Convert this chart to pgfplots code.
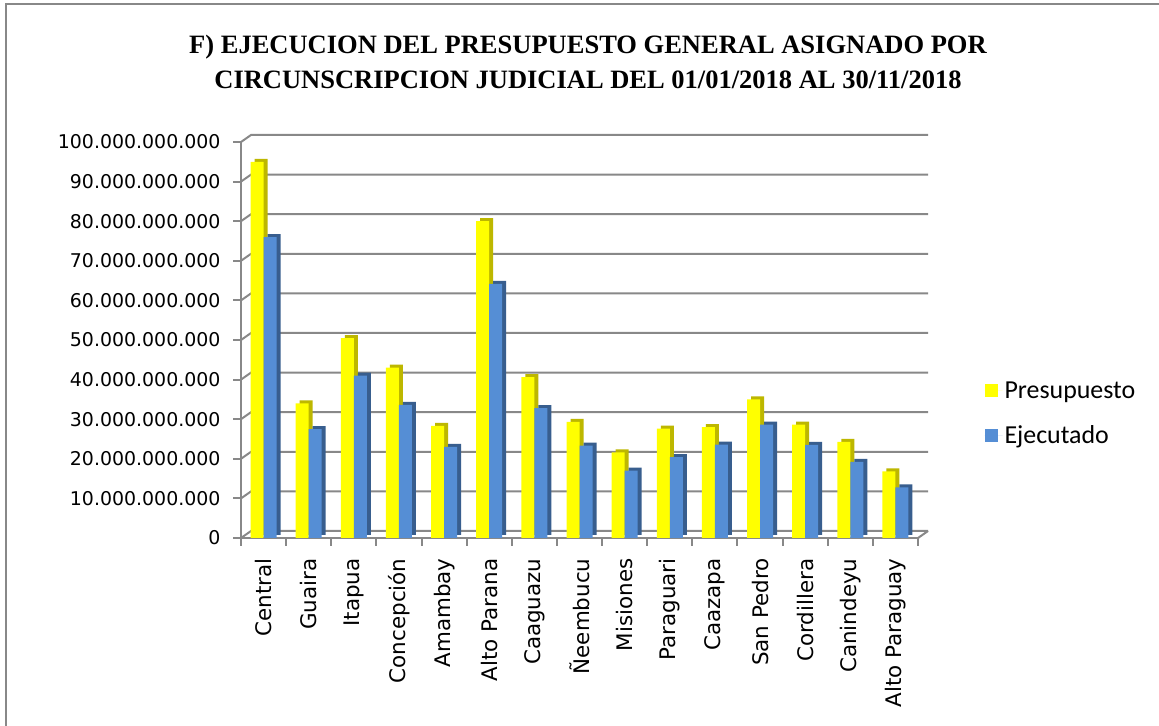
\documentclass[border=0pt]{standalone}
\usepackage{fontspec}
\setmainfont{Carlito}
\newfontfamily\dejavu{DejaVu Sans}
\newfontfamily\titlefont{Liberation Serif}
\usepackage{pgfplots}
\pgfplotsset{compat=1.18}
\definecolor{yel}{HTML}{FFFF00}
\definecolor{yelside}{HTML}{BDB700}
\definecolor{blu}{HTML}{558ED5}
\definecolor{bluside}{HTML}{385E8E}
\definecolor{gridc}{HTML}{888888}
\begin{document}
\begin{tikzpicture}
\path[use as bounding box, fill=white] (0,0) rectangle (1159bp,726bp);
\draw[gridc, line width=2bp] (6bp,0) -- (6bp,722bp) -- (1159bp,722bp);
\node[align=center, font=\titlefont\fontsize{26.6}{35}\selectfont\bfseries] at (588bp,664bp)
  {F) EJECUCION DEL PRESUPUESTO GENERAL ASIGNADO POR\\CIRCUNSCRIPCION JUDICIAL DEL 01/01/2018 AL 30/11/2018};
\begin{axis}[
  at={(241bp,188bp)}, anchor=south west,
  scale only axis, width=677bp, height=396bp,
  xmin=-0.5, xmax=14.5, ymin=0, ymax=100,
  axis x line*=bottom, axis y line*=left,
  axis line style={gridc, line width=2bp},
  ytick={0,10,...,100},
  yticklabels={\mbox{0},\mbox{10.000.000.000},\mbox{20.000.000.000},\mbox{30.000.000.000},\mbox{40.000.000.000},\mbox{50.000.000.000},\mbox{60.000.000.000},\mbox{70.000.000.000},\mbox{80.000.000.000},\mbox{90.000.000.000},\mbox{100.000.000.000}},
  yticklabel style={font=\dejavu\fontsize{19}{24}\selectfont, xshift=-9bp},
  xtick={-0.5,0.5,...,14.5}, xticklabels={},
  extra x ticks={0,1,...,14},
  extra x tick labels={Central,Guaira,Itapua,Concepción,Amambay,Alto Parana,Caaguazu,Ñeembucu,Misiones,Paraguari,Caazapa,San Pedro,Cordillera,Canindeyu,Alto Paraguay},
  extra x tick style={major tick length=0pt, tick label style={yshift=-17bp, rotate=90, anchor=east, font=\dejavu\fontsize{21.5}{24}\selectfont}},
  tick align=outside, major tick length=8bp,
  tick style={gridc, line width=2bp},
  ybar, bar width=13bp,
  clip=false,
  legend style={at={(1.098,0.314)}, anchor=west, draw=none, fill=none,
    font=\fontsize{26}{30}\selectfont, row sep=22bp, legend cell align=left, inner sep=0pt},
  legend image code/.code={\fill[#1] (0bp,-6.5bp) rectangle (13bp,6.5bp); \path (0bp,0bp) -- (18bp,0bp);},
]
% back wall grid and connectors
\pgfplotsinvokeforeach{0,10,...,100}{
  \draw[gridc, line width=2bp] (axis cs:-0.5,#1) -- ([shift={(10bp,7bp)}]axis cs:-0.5,#1) -- ([shift={(10bp,7bp)}]axis cs:14.5,#1);
}
\draw[gridc, line width=2bp] (axis cs:14.5,0) -- ([shift={(10bp,7bp)}]axis cs:14.5,0);
% side faces
\addplot[forget plot, fill=yelside, draw=none, bar shift=-2.5bp, yshift=3bp] coordinates {
(0,95) (1,34) (2,50.5) (3,43) (4,28.3) (5,80) (6,40.6) (7,29.3) (8,21.6) (9,27.6) (10,28) (11,35) (12,28.6) (13,24.3) (14,16.8)};
\addplot[fill=yel, draw=none, bar shift=-6.5bp] coordinates {
(0,95) (1,34) (2,50.5) (3,43) (4,28.3) (5,80) (6,40.6) (7,29.3) (8,21.6) (9,27.6) (10,28) (11,35) (12,28.6) (13,24.3) (14,16.8)};
\addlegendentry{Presupuesto}
\addplot[forget plot, fill=bluside, draw=none, bar shift=10.5bp, yshift=3bp] coordinates {
(0,76) (1,27.5) (2,41) (3,33.6) (4,23) (5,64.2) (6,32.8) (7,23.3) (8,17) (9,20.4) (10,23.6) (11,28.6) (12,23.5) (13,19.2) (14,12.8)};
\addplot[fill=blu, draw=none, bar shift=6.5bp] coordinates {
(0,76) (1,27.5) (2,41) (3,33.6) (4,23) (5,64.2) (6,32.8) (7,23.3) (8,17) (9,20.4) (10,23.6) (11,28.6) (12,23.5) (13,19.2) (14,12.8)};
\addlegendentry{Ejecutado}
\end{axis}
\end{tikzpicture}
\end{document}
